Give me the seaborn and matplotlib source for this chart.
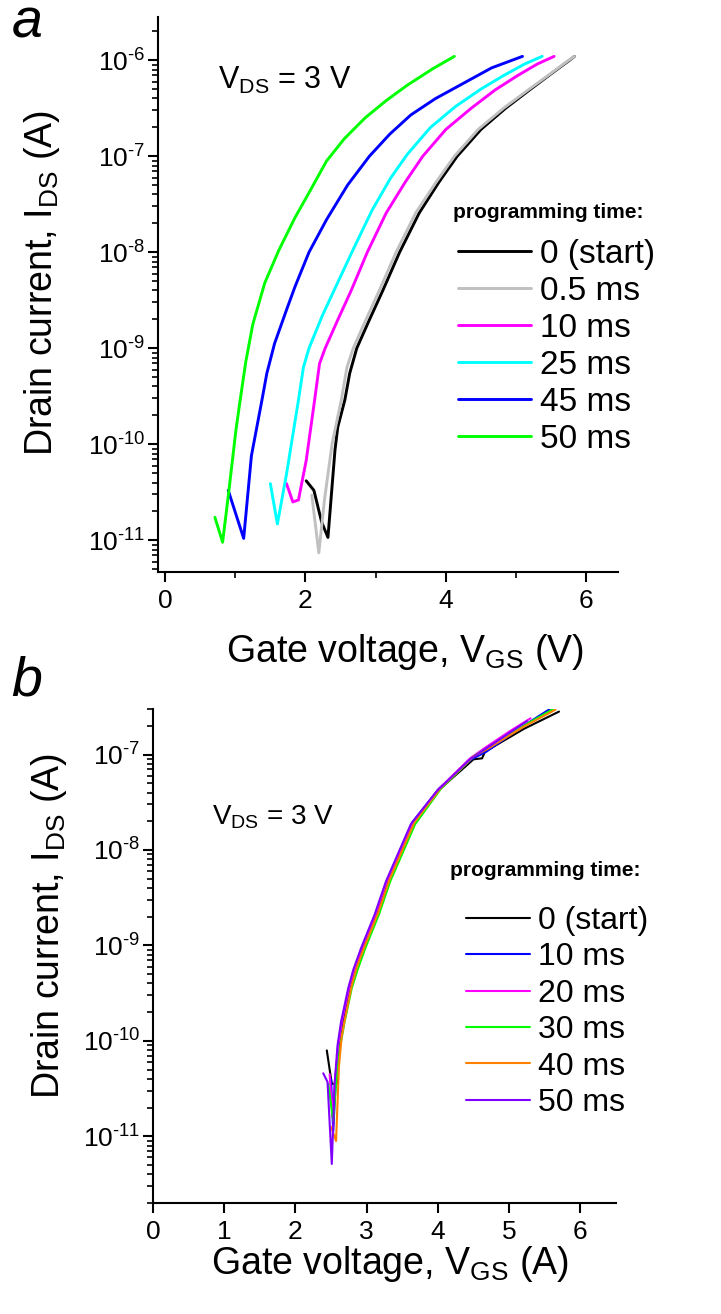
import matplotlib
matplotlib.use("Agg")
import matplotlib.pyplot as plt
import matplotlib.font_manager as fm
from matplotlib.ticker import FixedLocator, FuncFormatter, NullFormatter, MultipleLocator
import numpy as np
import seaborn as sns

# ---------------- data (a) : V_GS (V) and log10(I_DS / A) ----------------
a_labels = ["0 (start)", "0.5 ms", "10 ms", "25 ms", "45 ms", "50 ms"]
a_colors = ["#000000", "#c0c0c0", "#ff00ff", "#00ffff", "#0000ff", "#00ff00"]
a_ytick_exp = [-11, -10, -9, -8, -7, -6]

a_black_V = [2.01, 2.12, 2.23, 2.32, 2.42, 2.46, 2.56, 2.63, 2.73, 2.90, 3.10, 3.34, 3.62, 3.90, 4.16, 4.50, 4.85, 5.19, 5.50, 5.76, 5.83]
a_black_L = [-10.38, -10.48, -10.81, -10.97, -10.06, -9.82, -9.54, -9.26, -9.00, -8.72, -8.40, -8.00, -7.59, -7.27, -7.00, -6.72, -6.50, -6.31, -6.14, -6.00, -5.96]
a_gray_V = [2.09, 2.19, 2.27, 2.38, 2.51, 2.59, 2.68, 2.85, 3.05, 3.29, 3.57, 3.86, 4.12, 4.46, 4.82, 5.17, 5.49, 5.75, 5.83]
a_gray_L = [-10.53, -11.13, -10.58, -9.99, -9.54, -9.20, -9.00, -8.72, -8.40, -8.00, -7.59, -7.27, -7.00, -6.72, -6.50, -6.31, -6.14, -6.00, -5.96]
a_mag_V = [1.73, 1.82, 1.90, 2.01, 2.13, 2.20, 2.28, 2.45, 2.65, 2.88, 3.15, 3.42, 3.67, 4.00, 4.36, 4.70, 5.02, 5.30, 5.54]
a_mag_L = [-10.41, -10.60, -10.58, -10.17, -9.54, -9.16, -9.00, -8.72, -8.40, -8.00, -7.59, -7.27, -7.00, -6.72, -6.50, -6.31, -6.16, -6.04, -5.96]
a_cyan_V = [1.50, 1.60, 1.73, 1.90, 1.97, 2.05, 2.24, 2.45, 2.68, 2.95, 3.21, 3.45, 3.78, 4.14, 4.50, 4.82, 5.12, 5.37]
a_cyan_L = [-10.41, -10.83, -10.31, -9.54, -9.20, -9.00, -8.66, -8.33, -7.97, -7.56, -7.23, -6.98, -6.70, -6.48, -6.30, -6.16, -6.04, -5.96]
a_blue_V = [0.90, 1.12, 1.23, 1.38, 1.45, 1.56, 1.73, 1.85, 2.05, 2.30, 2.60, 2.91, 3.20, 3.50, 3.85, 4.20, 4.65, 5.09]
a_blue_L = [-10.48, -10.98, -10.12, -9.54, -9.26, -8.95, -8.60, -8.36, -8.00, -7.66, -7.30, -7.00, -6.77, -6.57, -6.40, -6.26, -6.08, -5.96]
a_green_V = [0.71, 0.82, 0.91, 1.01, 1.07, 1.15, 1.25, 1.42, 1.62, 1.85, 2.05, 2.30, 2.55, 2.85, 3.15, 3.45, 3.81, 4.12]
a_green_L = [-10.76, -11.02, -10.48, -9.85, -9.54, -9.14, -8.75, -8.32, -7.98, -7.64, -7.38, -7.05, -6.82, -6.60, -6.42, -6.26, -6.09, -5.96]

# ---------------- data (b) ----------------
b_labels = ["0 (start)", "10 ms", "20 ms", "30 ms", "40 ms", "50 ms"]
b_colors = ["#000000", "#0000ff", "#ff00ff", "#00ff00", "#ff8000", "#8000ff"]
b_ytick_exp = [-11, -10, -9, -8, -7]

b_black_V = [2.44, 2.51, 2.58, 2.62, 2.67, 2.77, 2.84, 2.95, 3.14, 3.30, 3.66, 4.03, 4.50, 4.62, 4.66, 5.21, 5.70]
b_black_L = [-10.10, -10.45, -10.45, -10.03, -9.78, -9.43, -9.24, -9.01, -8.66, -8.31, -7.71, -7.36, -7.05, -7.04, -6.97, -6.73, -6.55]
b_blue_V = [2.50, 2.53, 2.56, 2.60, 2.66, 2.76, 2.83, 2.94, 3.13, 3.29, 3.64, 4.01, 4.47, 4.68, 5.20, 5.62]
b_blue_L = [-10.40, -10.95, -10.50, -10.05, -9.78, -9.43, -9.24, -9.01, -8.66, -8.31, -7.71, -7.36, -7.05, -6.97, -6.70, -6.50]
b_mag_V = [2.48, 2.52, 2.55, 2.60, 2.65, 2.75, 2.82, 2.93, 3.12, 3.28, 3.63, 4.00, 4.45, 4.66, 5.00, 5.30]
b_mag_L = [-10.35, -10.80, -10.45, -10.05, -9.80, -9.45, -9.26, -9.03, -8.68, -8.33, -7.73, -7.37, -7.04, -6.93, -6.76, -6.62]
b_green_V = [2.46, 2.53, 2.57, 2.63, 2.69, 2.79, 2.87, 2.98, 3.17, 3.33, 3.68, 4.04, 4.50, 4.70, 5.20, 5.65]
b_green_L = [-10.45, -10.84, -10.45, -10.05, -9.80, -9.45, -9.26, -9.03, -8.68, -8.33, -7.73, -7.36, -7.02, -6.93, -6.70, -6.51]
b_orange_V = [2.50, 2.57, 2.61, 2.65, 2.70, 2.79, 2.86, 2.97, 3.16, 3.32, 3.67, 4.04, 4.50, 4.70, 5.20, 5.65]
b_orange_L = [-10.90, -11.05, -10.27, -9.95, -9.75, -9.42, -9.23, -9.01, -8.66, -8.31, -7.71, -7.35, -7.02, -6.94, -6.71, -6.53]
b_purple_V = [2.39, 2.45, 2.51, 2.55, 2.59, 2.64, 2.74, 2.81, 2.92, 3.11, 3.27, 3.62, 3.99, 4.45, 4.65, 5.25]
b_purple_L = [-10.34, -10.43, -11.29, -10.45, -10.05, -9.80, -9.45, -9.26, -9.03, -8.68, -8.33, -7.73, -7.38, -7.05, -6.95, -6.65]

a_series = [(a_black_V, a_black_L), (a_gray_V, a_gray_L), (a_mag_V, a_mag_L),
            (a_cyan_V, a_cyan_L), (a_blue_V, a_blue_L), (a_green_V, a_green_L)]
b_series = [(b_black_V, b_black_L), (b_blue_V, b_blue_L), (b_mag_V, b_mag_L),
            (b_green_V, b_green_L), (b_orange_V, b_orange_L), (b_purple_V, b_purple_L)]

# ---------------- style ----------------
sns.set_style("ticks")
plt.rcParams["font.family"] = ["Liberation Sans", "DejaVu Sans"]
plt.rcParams["mathtext.default"] = "regular"
plt.rcParams["axes.unicode_minus"] = False
plt.rcParams["axes.linewidth"] = 1.5
for k in ["text.color", "axes.labelcolor", "xtick.color", "ytick.color", "axes.edgecolor"]:
    plt.rcParams[k] = "black"

names = {f.name for f in fm.fontManager.ttflist}
narrow = "Liberation Sans Narrow" if "Liberation Sans Narrow" in names else "Liberation Sans"
title_size = 19 if narrow == "Liberation Sans Narrow" else 15

W, H = 721, 1314
fig = plt.figure(figsize=(W / 100, H / 100), dpi=100)
ax1 = fig.add_axes([158 / W, 1 - 572 / H, 460 / W, 555 / H])
ax2 = fig.add_axes([153 / W, 1 - 1203 / H, 463 / W, 494 / H])


def pow_label(y, _pos):
    e = int(round(np.log10(y)))
    return "10$^{\u2010%d}$" % (-e) if e < 0 else "10$^{%d}$" % e


def draw(ax, series, labels, colors, lw, exps, ylim):
    for (v, l), lab, col in zip(series, labels, colors):
        sns.lineplot(x=np.array(v), y=10.0 ** np.array(l), color=col, lw=lw,
                     sort=False, estimator=None, label=lab, ax=ax)
    ax.set_yscale("log")
    ax.set_ylim(*ylim)
    sns.despine(ax=ax)
    majors = [10.0 ** e for e in exps]
    lo, hi = ylim
    minors = [m * 10.0 ** e for e in range(exps[0] - 1, exps[-1] + 1) for m in range(2, 10)
              if lo <= m * 10.0 ** e <= hi]
    ax.yaxis.set_major_locator(FixedLocator(majors))
    ax.yaxis.set_major_formatter(FuncFormatter(pow_label))
    ax.yaxis.set_minor_locator(FixedLocator(minors))
    ax.yaxis.set_minor_formatter(NullFormatter())
    ax.tick_params(axis="both", which="major", labelsize=19, length=7, width=1.5, direction="out")
    ax.tick_params(axis="both", which="minor", length=4, width=1.2, direction="out")
    ax.tick_params(axis="y", which="major", pad=2)
    ax.tick_params(axis="x", which="major", pad=5)


draw(ax1, a_series, a_labels, a_colors, 2.1, a_ytick_exp, (10 ** -11.33, 10 ** -5.55))
ax1.set_xlim(-0.1, 6.45)
ax1.xaxis.set_major_locator(MultipleLocator(2))
ax1.xaxis.set_minor_locator(MultipleLocator(1))

draw(ax2, b_series, b_labels, b_colors, 1.5, b_ytick_exp, (2e-12, 3e-7))
ax2.set_xlim(0, 6.5)
ax2.xaxis.set_major_locator(MultipleLocator(1))
ax2.xaxis.set_minor_locator(plt.NullLocator())

# labels
ax1.set_xlabel(r"Gate voltage, V$_{GS}$ (V)", fontsize=27)
ax1.xaxis.set_label_coords(0.537, -0.108)
ax1.set_ylabel(r"Drain current, I$_{DS}$ (A)", fontsize=27)
ax1.yaxis.set_label_coords(-0.208, 0.52)
ax2.set_xlabel(r"Gate voltage, V$_{GS}$ (A)", fontsize=27)
ax2.xaxis.set_label_coords(0.512, -0.084)
ax2.set_ylabel(r"Drain current, I$_{DS}$ (A)", fontsize=27)
ax2.yaxis.set_label_coords(-0.181, 0.56)

ax1.text(0.13, 0.885, r"V$_{DS}$ = 3 V", transform=ax1.transAxes, fontsize=22, ha="left", va="center")
ax2.text(0.127, 0.781, r"V$_{DS}$ = 3 V", transform=ax2.transAxes, fontsize=20, ha="left", va="center")

fig.text(12 / W, 1 - 24 / H, "a", fontsize=40, style="italic", ha="left", va="center")
fig.text(11 / W, 1 - 682 / H, "b", fontsize=40, style="italic", ha="left", va="center")

# legends: title as bold text, entries as a legend
tprops = fm.FontProperties(family=narrow, weight="bold", size=title_size)
ax1.text((453 - 158) / 460, (572 - 212) / 555, "programming time:", transform=ax1.transAxes,
         fontproperties=tprops, ha="left", va="center")
ax2.text((450 - 153) / 463, (1203 - 870) / 494, "programming time:", transform=ax2.transAxes,
         fontproperties=tprops, ha="left", va="center")

for ax, anchor, hl, fs, lw, ls in [(ax1, ((458 - 158) / 460, (572 - 239) / 555), 2.2, 24, 2.1, 0.18),
                                   (ax2, ((466 - 153) / 463, (1203 - 906) / 494), 2.0, 23, 1.5, 0.2)]:
    leg = ax.legend(loc="upper left", bbox_to_anchor=anchor, frameon=False, fontsize=fs,
                    handlelength=hl, handletextpad=0.25,
                    labelspacing=ls, borderpad=0, borderaxespad=0)
    for line in leg.get_lines():
        line.set_linewidth(lw)

fig.savefig("out.png", dpi=100)
